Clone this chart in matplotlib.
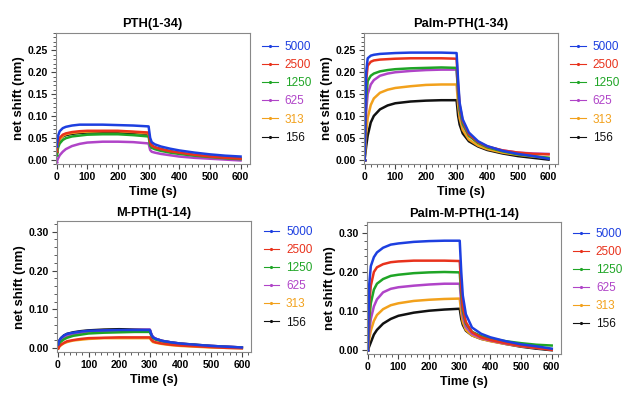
import matplotlib
matplotlib.use("Agg")
import matplotlib.pyplot as plt
from matplotlib.ticker import MultipleLocator, FormatStrFormatter

plt.rcParams["font.family"] = ["Liberation Sans", "DejaVu Sans"]

# tiempos de lectura (s)
tiempo = [0, 5, 10, 20, 30, 50, 75, 100, 150, 200, 250, 300,
          305, 310, 320, 340, 370, 400, 450, 500, 550, 600]

concentraciones = ["5000", "2500", "1250", "625", "313", "156"]
colores = ["#1d3fe0", "#e8321c", "#1fa526", "#b044c8", "#f2a11c", "#111111"]

pth_1_34 = [
    [0.030, 0.055, 0.065, 0.072, 0.075, 0.078, 0.080, 0.080, 0.080, 0.079, 0.078, 0.076, 0.050, 0.040, 0.035, 0.030, 0.025, 0.021, 0.016, 0.012, 0.009, 0.007],
    [0.020, 0.040, 0.050, 0.057, 0.060, 0.063, 0.065, 0.066, 0.066, 0.066, 0.064, 0.062, 0.040, 0.032, 0.028, 0.024, 0.019, 0.016, 0.011, 0.007, 0.004, 0.002],
    [0.010, 0.028, 0.037, 0.045, 0.049, 0.053, 0.055, 0.057, 0.058, 0.058, 0.056, 0.053, 0.032, 0.027, 0.024, 0.020, 0.016, 0.013, 0.009, 0.006, 0.003, 0.001],
    [-0.005, 0.003, 0.010, 0.018, 0.024, 0.031, 0.036, 0.039, 0.041, 0.041, 0.040, 0.037, 0.022, 0.018, 0.016, 0.013, 0.010, 0.007, 0.004, 0.002, 0.000, -0.002],
    [0.015, 0.036, 0.046, 0.054, 0.058, 0.061, 0.063, 0.064, 0.065, 0.065, 0.063, 0.060, 0.038, 0.031, 0.027, 0.023, 0.018, 0.015, 0.010, 0.006, 0.003, 0.001],
    [0.018, 0.038, 0.047, 0.053, 0.056, 0.059, 0.061, 0.062, 0.062, 0.062, 0.061, 0.059, 0.040, 0.032, 0.028, 0.024, 0.019, 0.015, 0.010, 0.007, 0.004, 0.002],
]

palm_pth_1_34 = [
    [0.000, 0.200, 0.232, 0.238, 0.240, 0.242, 0.243, 0.244, 0.245, 0.245, 0.245, 0.244, 0.180, 0.130, 0.092, 0.062, 0.042, 0.031, 0.020, 0.013, 0.008, 0.002],
    [0.000, 0.180, 0.215, 0.224, 0.227, 0.229, 0.230, 0.231, 0.232, 0.232, 0.232, 0.231, 0.170, 0.125, 0.088, 0.058, 0.040, 0.030, 0.021, 0.016, 0.013, 0.012],
    [0.000, 0.140, 0.180, 0.192, 0.197, 0.202, 0.205, 0.207, 0.209, 0.210, 0.211, 0.210, 0.155, 0.115, 0.082, 0.055, 0.038, 0.028, 0.019, 0.012, 0.008, 0.004],
    [0.000, 0.110, 0.150, 0.172, 0.182, 0.192, 0.197, 0.200, 0.203, 0.205, 0.206, 0.206, 0.150, 0.112, 0.080, 0.055, 0.039, 0.029, 0.021, 0.016, 0.014, 0.013],
    [0.000, 0.060, 0.095, 0.125, 0.140, 0.153, 0.160, 0.164, 0.168, 0.171, 0.172, 0.172, 0.125, 0.095, 0.068, 0.046, 0.032, 0.024, 0.016, 0.011, 0.007, 0.004],
    [0.000, 0.030, 0.055, 0.085, 0.100, 0.115, 0.124, 0.129, 0.133, 0.135, 0.136, 0.136, 0.100, 0.080, 0.060, 0.042, 0.030, 0.022, 0.014, 0.008, 0.004, 0.000],
]

m_pth_1_14 = [
    [0.010, 0.020, 0.026, 0.033, 0.037, 0.040, 0.043, 0.045, 0.046, 0.047, 0.047, 0.047, 0.035, 0.028, 0.024, 0.019, 0.015, 0.012, 0.009, 0.006, 0.004, 0.002],
    [0.000, 0.005, 0.009, 0.014, 0.018, 0.021, 0.024, 0.026, 0.027, 0.028, 0.028, 0.028, 0.022, 0.018, 0.015, 0.012, 0.009, 0.007, 0.005, 0.003, 0.001, 0.000],
    [0.005, 0.012, 0.017, 0.023, 0.027, 0.032, 0.035, 0.038, 0.040, 0.041, 0.042, 0.042, 0.032, 0.026, 0.022, 0.018, 0.014, 0.011, 0.008, 0.005, 0.003, 0.001],
    [0.008, 0.016, 0.021, 0.027, 0.031, 0.036, 0.040, 0.043, 0.045, 0.046, 0.047, 0.048, 0.036, 0.029, 0.024, 0.019, 0.015, 0.012, 0.008, 0.006, 0.004, 0.002],
    [0.000, 0.004, 0.008, 0.013, 0.016, 0.020, 0.022, 0.024, 0.026, 0.026, 0.026, 0.026, 0.020, 0.016, 0.014, 0.011, 0.008, 0.006, 0.004, 0.002, 0.001, 0.000],
    [0.010, 0.020, 0.026, 0.033, 0.037, 0.041, 0.044, 0.046, 0.048, 0.049, 0.048, 0.047, 0.035, 0.028, 0.024, 0.019, 0.015, 0.012, 0.009, 0.006, 0.004, 0.002],
]

palm_m_pth_1_14 = [
    [0.000, 0.170, 0.215, 0.238, 0.250, 0.262, 0.270, 0.273, 0.277, 0.279, 0.280, 0.280, 0.200, 0.140, 0.092, 0.058, 0.042, 0.033, 0.023, 0.015, 0.010, 0.004],
    [0.000, 0.120, 0.165, 0.200, 0.212, 0.220, 0.225, 0.227, 0.229, 0.229, 0.229, 0.228, 0.160, 0.110, 0.072, 0.046, 0.033, 0.026, 0.018, 0.011, 0.006, 0.001],
    [0.000, 0.080, 0.120, 0.155, 0.170, 0.182, 0.190, 0.193, 0.197, 0.199, 0.200, 0.199, 0.140, 0.100, 0.068, 0.047, 0.036, 0.030, 0.023, 0.018, 0.014, 0.012],
    [0.000, 0.050, 0.080, 0.112, 0.130, 0.148, 0.157, 0.161, 0.165, 0.168, 0.170, 0.170, 0.120, 0.087, 0.060, 0.042, 0.031, 0.025, 0.017, 0.011, 0.006, 0.002],
    [0.000, 0.030, 0.050, 0.075, 0.090, 0.105, 0.115, 0.120, 0.126, 0.129, 0.131, 0.132, 0.095, 0.072, 0.052, 0.038, 0.029, 0.023, 0.016, 0.010, 0.006, 0.002],
    [0.000, 0.010, 0.020, 0.040, 0.052, 0.068, 0.080, 0.088, 0.096, 0.101, 0.104, 0.106, 0.080, 0.065, 0.050, 0.038, 0.029, 0.024, 0.016, 0.009, 0.004, 0.000],
]

paneles = [
    ("PTH(1-34)", pth_1_34, [0.089, 0.587, 0.310, 0.330], (-0.010, 0.290), 0.05, 0.01, 1.02),
    ("Palm-PTH(1-34)", palm_pth_1_34, [0.581, 0.587, 0.310, 0.330], (-0.010, 0.290), 0.05, 0.01, 1.02),
    ("M-PTH(1-14)", m_pth_1_14, [0.091, 0.113, 0.310, 0.330], (-0.010, 0.327), 0.10, 0.02, 1.045),
    ("Palm-M-PTH(1-14)", palm_m_pth_1_14, [0.586, 0.108, 0.310, 0.332], (-0.010, 0.327), 0.10, 0.02, 1.04),
]

fig = plt.figure(figsize=(6.26, 3.97), dpi=100)

for titulo, series, pos, ylim, paso_y, paso_menor, leg_y in paneles:
    ax = fig.add_axes(pos)
    lineas = []
    for i in range(len(series) - 1, -1, -1):
        l, = ax.plot(tiempo, series[i], color=colores[i], lw=1.8,
                     marker=".", markersize=1.5, markevery=[0])
        lineas.append(l)
    lineas = lineas[::-1]

    ax.set_xlim(-3, 630)
    ax.set_ylim(*ylim)
    ax.xaxis.set_major_locator(MultipleLocator(100))
    ax.xaxis.set_minor_locator(MultipleLocator(20))
    ax.yaxis.set_major_locator(MultipleLocator(paso_y))
    ax.yaxis.set_minor_locator(MultipleLocator(paso_menor))
    ax.yaxis.set_major_formatter(FormatStrFormatter("%.2f"))
    ax.tick_params(which="both", direction="out", color="#444444", labelsize=7.5, pad=2)
    ax.tick_params(which="major", length=3.5)
    ax.tick_params(which="minor", length=2)
    for lab in ax.get_xticklabels() + ax.get_yticklabels():
        lab.set_fontweight("bold")
    for sp in ax.spines.values():
        sp.set_color("#888888")
        sp.set_linewidth(0.8)

    ax.set_title(titulo, fontsize=9.3, fontweight="bold", pad=4)
    ax.set_xlabel("Time (s)", fontsize=9, fontweight="bold", labelpad=3)
    ax.set_ylabel("net shift (nm)", fontsize=9.5, fontweight="bold", labelpad=2)

    leg = ax.legend(lineas, concentraciones, loc="upper left", bbox_to_anchor=(1.01, leg_y),
                    frameon=False, fontsize=8.5, handlelength=1.3, handletextpad=0.6,
                    labelspacing=0.52)
    for txt, c in zip(leg.get_texts(), colores):
        txt.set_color(c)
    for h in leg.legend_handles:
        h.set_linewidth(0.8)
        h.set_markersize(2.5)

fig.savefig("out.png", dpi=100, facecolor="white")
